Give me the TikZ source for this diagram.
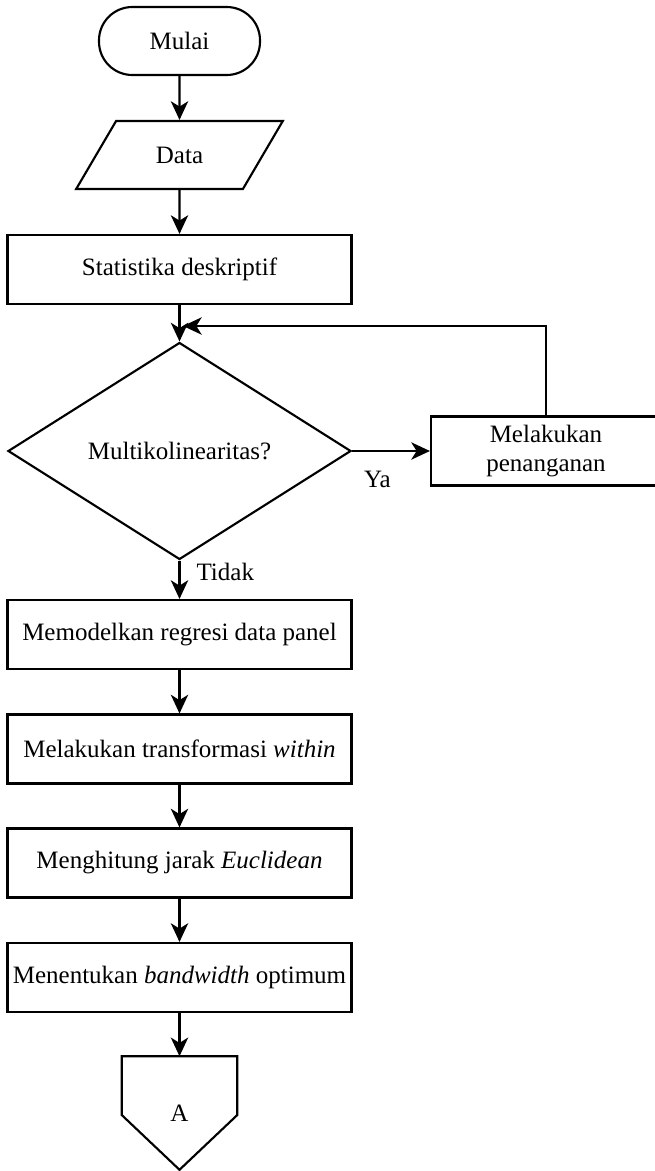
\documentclass[tikz,border=0pt]{standalone}
\usepackage{fontspec}
\setmainfont{Liberation Serif}
\usetikzlibrary{shapes.geometric, arrows.meta, positioning}

\begin{document}
\begin{tikzpicture}[
    x=0.75pt, y=-0.75pt,
    font=\fontsize{18.75}{22}\selectfont,
    base/.style={draw=black, line width=1.6pt, align=center,
                 inner sep=3pt},
    term/.style={base, rounded corners=25pt,
                 minimum width=120.75pt, minimum height=51pt},
    dataio/.style={base, trapezium, trapezium left angle=54.8,
                   trapezium right angle=125.2, trapezium stretches=true,
                   minimum width=155.25pt, minimum height=51pt},
    proc/.style={base, minimum width=258pt, minimum height=51.75pt},
    decide/.style={base, diamond,
                   minimum width=257.25pt, minimum height=148.5pt},
    offpage/.style={align=center, inner sep=3pt,
                    minimum width=86.25pt, minimum height=84.75pt},
    edge/.style={line width=1.6pt, line join=miter},
    arr/.style={-{Stealth[length=14pt, width=13pt, inset=4pt]},
                line width=1.6pt},
    lbl/.style={inner sep=2pt},
]
\useasboundingbox (0,0) rectangle (655,1171);

% Start and input
\node[term] (start) at (179.5, 41) {Mulai};
\node[dataio] (data) at (179.5, 155) {Data};
\node[proc] (desc) at (179.5, 269.5) {Statistika deskriptif};

\draw[arr] (start) -- (data);
\draw[arr] (data) -- (desc);

% Decision with loop back
\node[decide] (multi) at (179.5, 451) {Multikolinearitas?};
\node[proc, minimum width=172.5pt] (treat) at (546, 451)
    {Melakukan\\penanganan};
\coordinate (loopin) at (183, 326);

\draw[arr] (desc) -- (multi);
\draw[arr] (multi.east) -- (treat.west)
    node[lbl, pos=0.325, below=12pt] {Ya};
\draw[arr] (treat.north) |- (loopin);

% Main steps
\node[proc] (panel) at (179.5, 634.5) {Memodelkan regresi data panel};
\node[proc] (within) at (179.5, 749)
    {Melakukan transformasi \textit{within}};
\node[proc] (eucl) at (179.5, 863) {Menghitung jarak \textit{Euclidean}};
\node[proc] (bandw) at (179.5, 977.5)
    {Menentukan \textit{bandwidth} optimum};

\draw[arr] (multi) -- (panel)
    node[lbl, pos=0.3, right=10pt] {Tidak};
\draw[arr] (panel) -- (within);
\draw[arr] (within) -- (eucl);
\draw[arr] (eucl) -- (bandw);

% Off-page connector
\node[offpage] (conA) at (179.5, 1113) {A};
\draw[edge] (conA.north west) -- (conA.north east)
    -- ([yshift=-1.5pt]conA.east) -- (conA.south)
    -- ([yshift=-1.5pt]conA.west) -- cycle;
\draw[arr] (bandw) -- (conA);

\end{tikzpicture}
\end{document}
